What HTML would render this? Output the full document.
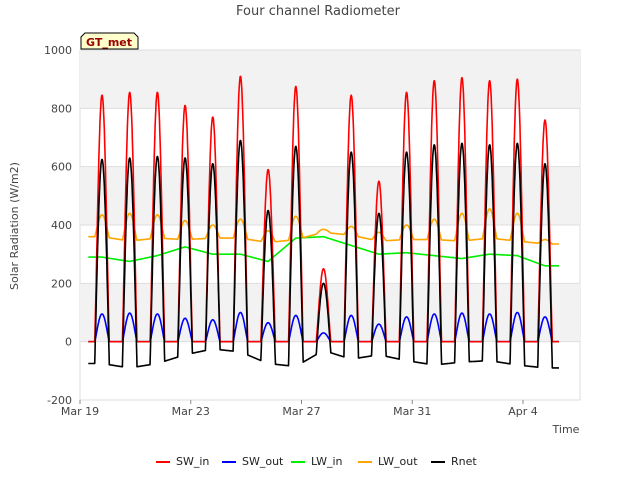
<!DOCTYPE html>
<html><head><meta charset="utf-8"><style>
body{margin:0;background:#fff;font-family:"Liberation Sans","DejaVu Sans",sans-serif}
svg text{font-family:"DejaVu Sans","Liberation Sans",sans-serif}
</style></head><body>
<svg id="c" width="640" height="480" viewBox="0 0 640 480">
<rect width="640" height="480" fill="#fff"/>
<text x="318" y="15" text-anchor="middle" font-size="13" fill="#444">Four channel Radiometer</text>
<g id="bands"></g><g id="grid"></g><g id="axes"></g><g id="series"></g>
<g>
<path d="M81,49 L81,37 L85,33 L134,33 L138,37 L138,49 Z" fill="#ffffcc" stroke="#000" stroke-width="1"/>
<text x="109" y="46" text-anchor="middle" font-size="11" font-weight="bold" fill="#990000">GT_met</text>
</g>
<text x="18" y="226" transform="rotate(-90 18 226)" text-anchor="middle" font-size="11" fill="#444">Solar Radiation (W/m2)</text>
<text x="566" y="433" text-anchor="middle" font-size="11" fill="#444">Time</text>
<g id="legend"></g>
</svg>
<script>
const yTicks=[-200,0,200,400,600,800,1000];
const xTickLabels=["Mar 19","Mar 23","Mar 27","Mar 31","Apr 4"];
const xTickDays=[0,4,8,12,16];
const swInPeak=[845,855,855,810,770,910,590,875,250,845,550,855,895,905,895,900,760];
const rnetPeak=[625,630,635,630,610,690,450,670,200,650,440,650,675,680,675,680,610];
const rnetNight=[-75,-90,-75,-45,-25,-35,-75,-85,-30,-60,-45,-65,-80,-70,-65,-80,-90];
const swOutPeak=[95,98,95,80,75,100,65,90,30,90,60,85,95,98,95,100,85];
const lwInDay=[290,275,295,325,300,300,275,355,360,330,300,305,295,285,300,295,260];
const lwOutNight=[360,345,355,350,355,355,340,350,375,365,345,350,350,345,355,345,335];
const lwOutPeak=[435,440,435,415,400,420,380,430,385,395,375,400,420,440,455,440,350];
const series=["SW_in","SW_out","LW_in","LW_out","Rnet"];
const colors=["#ff0000","#0000ff","#00ee00","#ffa500","#000000"];
const X0=80,X1=580,Y0=50,Y1=400,dayPx=(523-80)/16;
const xs=d=>X0+d*dayPx;
const ys=v=>Y1-(v+200)/1200*(Y1-Y0);
const NS="http://www.w3.org/2000/svg";
function mk(tag,attrs,parent){const e=document.createElementNS(NS,tag);for(const k in attrs)e.setAttribute(k,attrs[k]);parent.appendChild(e);return e;}
const bands=document.getElementById('bands'),grid=document.getElementById('grid'),axes=document.getElementById('axes');
mk('rect',{x:X0,y:Y0,width:X1-X0,height:Y1-Y0,fill:'#fff',stroke:'#ddd'},bands);
for(let i=0;i<yTicks.length-1;i++){if(i%2===1){const r=mk('rect',{x:X0,y:ys(yTicks[i+1]),width:X1-X0,height:ys(yTicks[i])-ys(yTicks[i+1]),fill:'#f2f2f2'},bands);

}}
yTicks.forEach(v=>{const l=mk('line',{x1:X0,x2:X1,y1:ys(v),y2:ys(v),stroke:'#ddd'},grid);


const t=mk('text',{x:X0-8,y:ys(v)+4,'text-anchor':'end','font-size':'11',fill:'#444'},axes);t.textContent=v;

});
xTickLabels.forEach((s,i)=>{const x=xs(xTickDays[i]);mk('line',{x1:x,x2:x,y1:Y1,y2:Y1+4,stroke:'#888'},axes);
const t=mk('text',{x:x,y:Y1+15,'text-anchor':'middle','font-size':'11',fill:'#444'},axes);t.textContent=s;

});
const rise=0.53,set=1.06,start=0.3,end=17.3;
function sun(d){const f=d-Math.floor(d);let p=f<0.3?f+1:f;if(p<rise||p>set)return 0;return Math.pow(Math.sin((p-rise)/(set-rise)*Math.PI),1.2);}
function dayIdx(d){const f=d-Math.floor(d);let i=Math.floor(d);if(f<0.3)i--;return Math.max(0,Math.min(16,i));}
function smooth(arr,d){const u=d-0.79;let i=Math.floor(u);const f=u-i;const a=arr[Math.max(0,Math.min(16,i))],b=arr[Math.max(0,Math.min(16,i+1))];return a+(b-a)*f;}
const pts=[[],[],[],[],[]];
for(let d=start;d<=end;d+=0.01){const i=dayIdx(d),s=sun(d);
const rnN=smooth(rnetNight,d),loN=smooth(lwOutNight,d);
const sw=swInPeak[i]*s, so=swOutPeak[i]*s, li=smooth(lwInDay,d), lo=loN+(lwOutPeak[i]-loN)*s;
const rn=rnN+(rnetPeak[i]-rnN)*Math.pow(s,0.9);
[sw,so,li,lo,rn].forEach((v,k)=>pts[k].push(xs(d).toFixed(1)+','+ys(v).toFixed(1)));}
const sg=document.getElementById('series');
[2,3,1,0,4].forEach(k=>{const p=mk('polyline',{points:pts[k].join(' '),fill:'none',stroke:colors[k],'stroke-width':'1.6','stroke-linejoin':'round'},sg);

});
const lg=document.getElementById('legend');const lx=[156,222,291,358,431];
series.forEach((s,k)=>{const g=mk('g',{},lg);


mk('line',{x1:lx[k],x2:lx[k]+14,y1:462,y2:462,stroke:colors[k],'stroke-width':'2'},g);
const t=mk('text',{x:lx[k]+20,y:465,'font-size':'11',fill:'#222'},g);t.textContent=s;});
</script>
</body></html>
